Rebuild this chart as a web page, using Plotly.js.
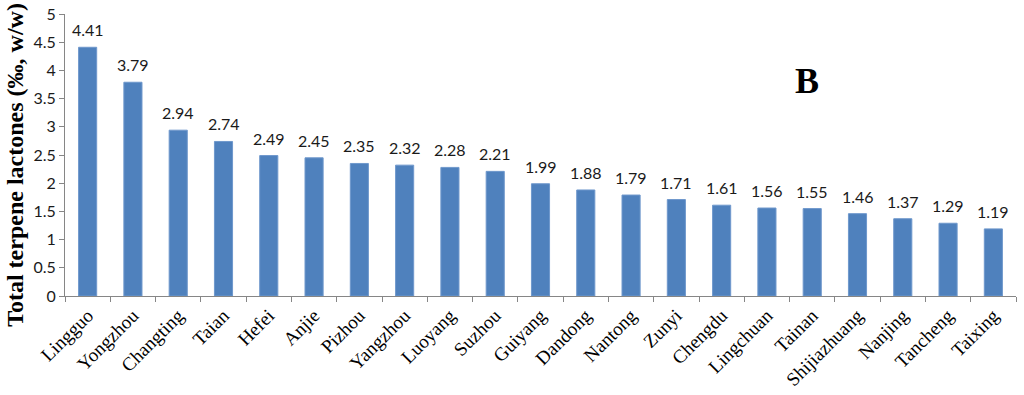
<!DOCTYPE html>
<html>
<head>
<meta charset="utf-8">
<script src="https://cdn.plot.ly/plotly-3.0.1.min.js"></script>
<style>html,body{margin:0;padding:0;background:#fff;}#chart{width:1024px;height:395px;}</style>
</head>
<body>
<div id="chart"></div>
<script>
const categories = ["Lingguo","Yongzhou","Changting","Taian","Hefei","Anjie","Pizhou","Yangzhou","Luoyang","Suzhou","Guiyang","Dandong","Nantong","Zunyi","Chengdu","Lingchuan","Tainan","Shijiazhuang","Nanjing","Tancheng","Taixing"];
const values = [4.41,3.79,2.94,2.74,2.49,2.45,2.35,2.32,2.28,2.21,1.99,1.88,1.79,1.71,1.61,1.56,1.55,1.46,1.37,1.29,1.19];
const yTicks = [0,0.5,1,1.5,2,2.5,3,3.5,4,4.5,5];
const yTickLabels = ["0","0.5","1","1.5","2","2.5","3","3.5","4","4.5","5"];
const yTitle = "Total terpene lactones (‰, w/w)";
const panelLabel = "B";

const trace = {
  type: "bar",
  x: categories,
  y: values,
  marker: {color: "#4F81BD", line: {color: "#6f98cc", width: 1}},
  hoverinfo: "none"
};

const labelFont = {family: "Lato, 'Open Sans', sans-serif", size: 16, color: "#1a1a1a"};
const valueAnnotations = categories.map((c, i) => ({
  x: c, y: values[i], xref: "x", yref: "y",
  text: values[i].toFixed(2), showarrow: false,
  yanchor: "bottom", yshift: 6, font: labelFont
}));

const layout = {
  width: 1024, height: 395,
  margin: {l: 65, r: 8, t: 14, b: 99},
  paper_bgcolor: "#fff", plot_bgcolor: "#fff",
  bargap: 0.6,
  showlegend: false,
  xaxis: {
    type: "category",
    tickangle: -45,
    tickfont: {family: "'Liberation Serif', 'Times New Roman', serif", size: 19, color: "#000"},
    showline: true, linecolor: "#868686", linewidth: 1,
    ticks: "outside", ticklen: 5, tickcolor: "#868686",
    tickson: "boundaries",
    showgrid: false, zeroline: false
  },
  yaxis: {
    range: [0, 5],
    tickvals: yTicks, ticktext: yTickLabels,
    tickfont: {family: "Lato, 'Open Sans', sans-serif", size: 16, color: "#1a1a1a"},
    showline: true, linecolor: "#868686", linewidth: 1,
    ticks: "outside", ticklen: 5, tickcolor: "#868686",
    showgrid: false, zeroline: false
  },
  annotations: valueAnnotations.concat([
    {
      text: "<b>" + yTitle + "</b>", xref: "paper", yref: "paper",
      x: -0.0526, y: 0.465, xanchor: "center", yanchor: "middle",
      textangle: -90, showarrow: false,
      font: {family: "'Liberation Serif', 'Times New Roman', serif", size: 24, color: "#000"}
    },
    {
      text: "<b>" + panelLabel + "</b>", xref: "paper", yref: "paper",
      x: 0.795, y: 0.84, showarrow: false,
      font: {family: "'Liberation Serif', 'Times New Roman', serif", size: 36, color: "#000"}
    }
  ])
};

Plotly.newPlot("chart", [trace], layout, {staticPlot: true});
</script>
</body>
</html>
